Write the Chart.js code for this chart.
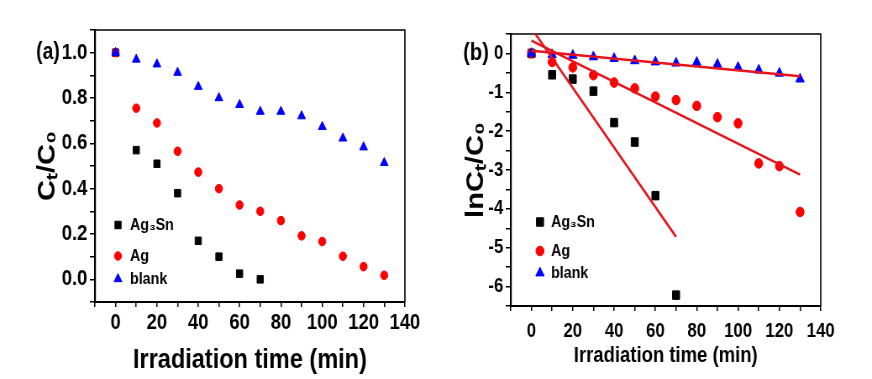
<!DOCTYPE html>
<html>
<head>
<meta charset="utf-8">
<title>Ct/C0 and lnCt/C0 vs irradiation time</title>
<script src="https://cdn.jsdelivr.net/npm/chart.js@4.4.1/dist/chart.umd.min.js"></script>
<style>
  html, body { margin: 0; padding: 0; background: #fff; overflow: hidden; }
  #wrap { position: relative; width: 872px; height: 379px; overflow: hidden; }
  canvas { position: absolute; top: 0; transform-origin: 0 0; }
  #chartA { left: 0; }
  #chartB { left: 436px; }
</style>
</head>
<body>
<div id="wrap">
  <canvas id="chartA"></canvas>
  <canvas id="chartB"></canvas>
</div>
<script>
// --- Data ---
const times = [0, 10, 20, 30, 40, 50, 60, 70, 80, 90, 100, 110, 120, 130];

// (a) Ct/C0
const ag3snCt = [1.0, 0.57, 0.51, 0.38, 0.17, 0.10, 0.025, 0.0];
const agCt = [1.0, 0.755, 0.69, 0.565, 0.473, 0.40, 0.328, 0.30, 0.259, 0.192, 0.167, 0.102, 0.056, 0.018];
const blankCt = [1.0, 0.97, 0.949, 0.912, 0.85, 0.80, 0.77, 0.74, 0.74, 0.72, 0.673, 0.622, 0.583, 0.514];

// (b) ln(Ct/C0)
const ag3snLn = [0, -0.55, -0.66, -0.97, -1.78, -2.28, -3.66, -6.22];
const agLn = [0, -0.22, -0.36, -0.56, -0.75, -0.90, -1.11, -1.20, -1.35, -1.64, -1.80, -2.83, -2.90, -4.08];
const blankLn = [0, -0.03, -0.05, -0.09, -0.13, -0.19, -0.22, -0.25, -0.23, -0.28, -0.36, -0.43, -0.51, -0.66];

// (b) linear fits, end points
const fitAg3snX = [0, 70];
const fitAg3snY = [0.65, -4.72];
const fitAgX = [0, 130];
const fitAgY = [0.33, -3.12];
const fitBlankX = [0, 130];
const fitBlankY = [0.07, -0.59];

const seriesNames = ["Ag\u2083Sn", "Ag", "blank"];

// the original figure is squeezed sideways, so draw wider and squash with css
const SQUASH = 0.84;
const PANEL_W = 436;
const PANEL_H = 379;
const sx = v => v / SQUASH;

const FONT = '"Liberation Sans", Arial, sans-serif';
Chart.defaults.font.family = FONT;
Chart.defaults.color = "#000";

// --- helpers ---
function pointSet(label, ys, style, color, r, order) {
  return {
    label: label,
    data: ys.map((y, i) => ({ x: times[i], y: y })),
    pointStyle: style,
    pointRadius: r,
    pointHoverRadius: r,
    backgroundColor: color,
    borderColor: color,
    borderWidth: 1,
    showLine: false,
    order: order
  };
}

function fitSet(xs, ys) {
  return {
    label: "fit",
    isFit: true,
    data: xs.map((x, i) => ({ x: x, y: ys[i] })),
    showLine: true,
    borderColor: "#e8141b",
    borderWidth: 2.5,
    pointRadius: 0,
    fill: false,
    order: 0
  };
}

function xAxis(tickSize, tickPad, titleSize, titlePad, height) {
  return {
    type: "linear",
    min: -10,
    max: 140,
    ticks: {
      stepSize: 10,
      autoSkip: false,
      maxRotation: 0,
      padding: tickPad,
      color: "#000",
      font: { size: tickSize, weight: "bold" },
      callback: v => (v >= 0 && v % 20 === 0) ? String(v) : ""
    },
    grid: { drawOnChartArea: false, drawTicks: true, tickLength: 5, color: "#000", lineWidth: 1.5 },
    border: { display: true, color: "#000", width: 2 },
    title: {
      display: true,
      text: "Irradiation time (min)",
      color: "#000",
      font: { size: titleSize, weight: "bold", lineHeight: 1 },
      padding: { top: 0, bottom: titlePad }
    },
    afterFit: s => { s.height = height; }
  };
}

function yAxis(min, max, step, labelFn, tickSize, title, titleSize, titlePad, width) {
  return {
    type: "linear",
    min: min,
    max: max,
    ticks: {
      stepSize: step,
      autoSkip: false,
      padding: 3,
      color: "#000",
      font: { size: tickSize, weight: "bold" },
      callback: labelFn
    },
    grid: { drawOnChartArea: false, drawTicks: true, tickLength: 6, color: "#000", lineWidth: 1.5 },
    border: { display: true, color: "#000", width: 2.2 },
    title: {
      display: true,
      text: title,
      color: "#000",
      font: { size: titleSize, weight: "bold", lineHeight: 1 },
      padding: { top: titlePad, bottom: 0 }
    },
    afterFit: s => { s.width = width; }
  };
}

// --- plugins: frame, panel tag, marker key ---
const framePlugin = {
  id: "frame",
  beforeDatasetsDraw(chart) {
    const a = chart.chartArea;
    const ctx = chart.ctx;
    ctx.save();
    ctx.strokeStyle = "#000";
    ctx.lineWidth = 1.6;
    ctx.beginPath();
    ctx.moveTo(a.left, a.top);
    ctx.lineTo(a.right, a.top);
    ctx.lineTo(a.right, a.bottom);
    ctx.stroke();
    ctx.restore();
  }
};

const tagPlugin = {
  id: "tag",
  afterDraw(chart, args, opts) {
    if (!opts.text) return;
    const ctx = chart.ctx;
    ctx.save();
    ctx.fillStyle = "#000";
    ctx.font = `bold ${opts.size}px ${FONT}`;
    ctx.textAlign = "center";
    ctx.textBaseline = "middle";
    ctx.fillText(opts.text, opts.x, opts.y);
    ctx.restore();
  }
};

const keyPlugin = {
  id: "key",
  afterDraw(chart, args, opts) {
    if (!opts.ys) return;
    const ctx = chart.ctx;
    const sets = chart.data.datasets.filter(d => !d.isFit);
    ctx.save();
    sets.forEach((d, i) => {
      ctx.fillStyle = d.backgroundColor;
      ctx.strokeStyle = d.borderColor;
      ctx.lineWidth = 1;
      Chart.helpers.drawPoint(ctx, { pointStyle: d.pointStyle, radius: d.pointRadius, rotation: 0, borderWidth: 1 }, opts.x, opts.ys[i]);
      ctx.fillStyle = "#000";
      ctx.font = `bold ${opts.size}px ${FONT}`;
      ctx.textAlign = "left";
      ctx.textBaseline = "middle";
      ctx.fillText(d.label, opts.textX, opts.ys[i]);
    });
    ctx.restore();
  }
};

function setupCanvas(id) {
  const c = document.getElementById(id);
  c.width = Math.round(sx(PANEL_W));
  c.height = PANEL_H;
  c.style.transform = `scaleX(${SQUASH})`;
  return c;
}

// --- Panel (a) ---
const canvasA = setupCanvas("chartA");
new Chart(canvasA, {
  type: "scatter",
  data: {
    datasets: [
      pointSet(seriesNames[0], ag3snCt, "rect", "#000000", 5.3, 3),
      pointSet(seriesNames[1], agCt, "circle", "#ff0000", 4.3, 2),
      pointSet(seriesNames[2], blankCt, "triangle", "#0000ff", 5.4, 1)
    ]
  },
  options: {
    responsive: false,
    animation: false,
    devicePixelRatio: 1,
    layout: { padding: { left: 0, right: canvasA.width - Math.round(sx(405)), top: 30, bottom: 0 } },
    scales: {
      x: xAxis(22, 3, 28, 5, 77),
      y: yAxis(-0.1, 1.1, 0.1, v => {
        const k = Math.round(v * 10);
        return (k >= 0 && k <= 10 && k % 2 === 0) ? (k / 10).toFixed(1) : "";
      }, 22, "C\u209C/C\u2080", 29, sx(48) - 14.5, Math.round(sx(95)))
    },
    plugins: {
      legend: { display: false },
      tooltip: { enabled: false },
      tag: { text: "(a)", x: sx(48), y: 53, size: 23 },
      key: { x: sx(118), ys: [225, 256, 279], textX: sx(130), size: 17 }
    }
  },
  plugins: [framePlugin, tagPlugin, keyPlugin]
});

// --- Panel (b) ---
const canvasB = setupCanvas("chartB");
new Chart(canvasB, {
  type: "scatter",
  data: {
    datasets: [
      pointSet(seriesNames[0], ag3snLn, "rect", "#000000", 6, 3),
      pointSet(seriesNames[1], agLn, "circle", "#ff0000", 4.8, 2),
      pointSet(seriesNames[2], blankLn, "triangle", "#0000ff", 5.8, 1),
      fitSet(fitAg3snX, fitAg3snY),
      fitSet(fitAgX, fitAgY),
      fitSet(fitBlankX, fitBlankY)
    ]
  },
  options: {
    responsive: false,
    animation: false,
    devicePixelRatio: 1,
    layout: { padding: { left: 0, right: canvasB.width - Math.round(sx(821 - 436)), top: 34, bottom: 0 } },
    scales: {
      x: xAxis(20, 8, 22, 12, 73),
      y: yAxis(-6.5, 0.5, 0.5, v => {
        const k = Math.round(v * 2);
        return k % 2 === 0 ? String(k / 2) : "";
      }, 20, "lnC\u209C/C\u2080", 29, sx(40) - 14.5, Math.round(sx(511 - 436)))
    },
    plugins: {
      legend: { display: false },
      tooltip: { enabled: false },
      tag: { text: "(b)", x: sx(476 - 436), y: 53, size: 24 },
      key: { x: sx(540 - 436), ys: [222, 251, 273], textX: sx(551 - 436), size: 17 }
    }
  },
  plugins: [framePlugin, tagPlugin, keyPlugin]
});
</script>
</body>
</html>
